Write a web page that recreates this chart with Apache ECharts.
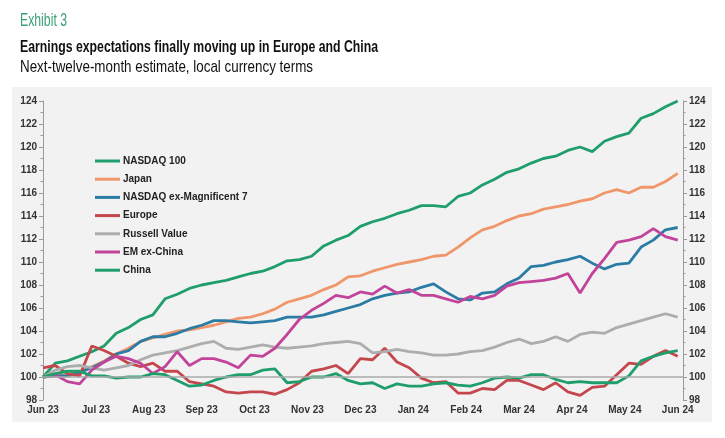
<!DOCTYPE html>
<html lang="en">
<head>
    <meta charset="utf-8">
    <script src="https://cdn.jsdelivr.net/npm/echarts@6/dist/echarts.min.js"></script>
    <style>
        html, body { margin: 0; padding: 0; background: #fff; }
        #chart { width: 725px; height: 438px; }
    </style>
</head>
<body>
<div id="chart"></div>

<script type="text/javascript">
    // month tick labels along the bottom (Jun 23 .. Jun 24)
    var monthLabels = ['Jun 23', 'Jul 23', 'Aug 23', 'Sep 23', 'Oct 23', 'Nov 23', 'Dec 23',
        'Jan 24', 'Feb 24', 'Mar 24', 'Apr 24', 'May 24', 'Jun 24'];

    // weekly readings, 53 weeks, rebased to 100
    var nasdaq100 = [100.0, 101.2, 101.4, 101.8, 102.2, 102.7, 103.8, 104.3, 105.0, 105.4,
        106.8, 107.2, 107.7, 108.0, 108.2, 108.4, 108.7, 109.0, 109.2, 109.6,
        110.1, 110.2, 110.5, 111.4, 111.9, 112.3, 113.1, 113.5, 113.8, 114.2,
        114.5, 114.9, 114.9, 114.8, 115.7, 116.0, 116.7, 117.2, 117.8, 118.1,
        118.6, 119.0, 119.2, 119.7, 120.0, 119.6, 120.5, 120.9, 121.2, 122.5,
        122.9, 123.5, 124.0];
    var japan = [100.0, 100.1, 100.2, 100.5, 100.9, 101.4, 102.0, 102.5, 103.1, 103.4,
        103.7, 104.0, 104.1, 104.3, 104.5, 104.8, 105.1, 105.2, 105.5, 105.9,
        106.5, 106.8, 107.1, 107.6, 108.0, 108.7, 108.8, 109.2, 109.5, 109.8,
        110.0, 110.2, 110.5, 110.6, 111.3, 112.1, 112.8, 113.1, 113.6, 114.0,
        114.2, 114.6, 114.8, 115.0, 115.3, 115.5, 116.0, 116.3, 116.0, 116.5,
        116.5, 117.0, 117.7];
    var nasdaqExMag7 = [100.0, 100.1, 100.1, 100.4, 100.8, 101.3, 102.0, 102.3, 103.1, 103.5,
        103.5, 103.8, 104.2, 104.5, 104.9, 104.9, 104.8, 104.7, 104.8, 104.9,
        105.2, 105.2, 105.2, 105.4, 105.7, 106.0, 106.3, 106.8, 107.1, 107.3,
        107.4, 107.8, 108.1, 107.4, 106.8, 106.7, 107.3, 107.4, 108.1, 108.6,
        109.6, 109.7, 110.0, 110.2, 110.5, 109.9, 109.4, 109.8, 109.9, 111.3,
        111.9, 112.8, 113.0];
    var europe = [100.8, 101.0, 100.3, 100.1, 102.7, 102.3, 101.8, 101.2, 100.9, 101.2,
        100.5, 100.5, 99.6, 99.4, 99.2, 98.7, 98.6, 98.7, 98.7, 98.5,
        98.9, 99.5, 100.5, 100.7, 101.0, 100.3, 101.6, 101.5, 102.5, 101.3,
        100.8, 99.9, 99.5, 99.6, 98.6, 98.6, 99.0, 98.9, 99.7, 99.7,
        99.3, 98.9, 99.5, 98.7, 98.4, 99.1, 99.2, 100.2, 101.2, 101.1,
        101.8, 102.3, 101.8];
    var russellValue = [100.0, 100.6, 100.9, 101.0, 100.8, 100.6, 100.8, 101.0, 101.5, 101.9,
        102.1, 102.3, 102.6, 102.9, 103.1, 102.5, 102.4, 102.6, 102.8, 102.6,
        102.5, 102.6, 102.7, 102.9, 103.0, 103.1, 102.9, 102.1, 102.2, 102.4,
        102.2, 102.1, 101.9, 101.9, 102.0, 102.2, 102.3, 102.6, 103.0, 103.3,
        102.9, 103.1, 103.5, 103.1, 103.7, 103.9, 103.8, 104.3, 104.6, 104.9,
        105.2, 105.5, 105.2];
    var emExChina = [100.0, 100.2, 99.6, 99.4, 100.6, 101.3, 101.8, 101.6, 101.2, 100.3,
        100.9, 102.2, 101.0, 101.6, 101.6, 101.3, 100.8, 101.9, 101.8, 102.5,
        103.7, 105.0, 105.8, 106.4, 107.1, 106.9, 107.4, 107.2, 107.9, 107.3,
        107.6, 107.1, 107.1, 106.8, 106.5, 107.0, 106.8, 107.1, 107.9, 108.2,
        108.3, 108.4, 108.6, 109.0, 107.3, 109.0, 110.3, 111.7, 111.9, 112.2,
        112.9, 112.2, 111.9];
    var china = [100.0, 100.3, 100.5, 100.5, 100.1, 100.1, 99.9, 100.0, 100.0, 100.3,
        100.2, 99.7, 99.2, 99.3, 99.7, 100.0, 100.2, 100.2, 100.6, 100.7,
        99.5, 99.6, 100.0, 100.0, 100.3, 99.7, 99.4, 99.5, 99.0, 99.4,
        99.2, 99.2, 99.4, 99.5, 99.3, 99.2, 99.5, 99.9, 100.0, 99.9,
        100.2, 100.2, 99.8, 99.5, 99.6, 99.5, 99.5, 99.5, 100.1, 101.4,
        101.8, 102.1, 102.3];

    var FONT = '"Liberation Sans Narrow", "Liberation Sans", sans-serif';

    // the original uses a condensed face: squeeze the heading texts to their widths
    var measureCtx = document.createElement('canvas').getContext('2d');
    function squeeze(text, font, targetWidth) {
        measureCtx.font = font;
        return targetWidth / measureCtx.measureText(text).width;
    }

    function heading(text, font, color, top, targetWidth) {
        var s = squeeze(text, font, targetWidth);
        return {
            type: 'text', x: 20, y: top, scaleX: s, silent: true,
            style: {text: text, fill: color, font: font}
        };
    }

    // week index -> position in months on the x axis
    function toPoints(arr) {
        return arr.map(function (v, i) {
            return [i * 12 / 52, v];
        });
    }

    function lineSeries(name, data, color) {
        return {
            name: name,
            type: 'line',
            data: toPoints(data),
            showSymbol: false,
            symbol: 'none',
            lineStyle: {width: 2.8, color: color},
            itemStyle: {color: color},
            emphasis: {disabled: true}
        };
    }

    var chart = echarts.init(document.getElementById('chart'));

    var series = [
        lineSeries('NASDAQ 100', nasdaq100, '#1f9e6c'),
        lineSeries('Japan', japan, '#f0966b'),
        lineSeries('NASDAQ ex-Magnificent 7', nasdaqExMag7, '#2a7ca4'),
        lineSeries('Europe', europe, '#c4474d'),
        lineSeries('Russell Value', russellValue, '#adadad'),
        lineSeries('EM ex-China', emExChina, '#c2449a'),
        lineSeries('China', china, '#1f9e6c')
    ];
    // reference line at 100
    series[0].markLine = {
        silent: true,
        symbol: 'none',
        label: {show: false},
        lineStyle: {color: '#aaaaaa', width: 1.5, type: 'solid'},
        data: [{yAxis: 100}]
    };

    var yAxisBase = {
        type: 'value',
        min: 98,
        max: 124,
        interval: 2,
        splitLine: {show: false},
        axisLine: {show: true, lineStyle: {color: '#9a9a9a', width: 1}},
        axisTick: {show: true, length: 4, lineStyle: {color: '#9a9a9a'}},
        minorTick: {show: true, splitNumber: 2, length: 2.5, lineStyle: {color: '#9a9a9a'}},
        axisLabel: {color: '#333', fontSize: 10, fontWeight: 'bold', fontFamily: FONT, margin: 6}
    };

    var option = {
        backgroundColor: '#ffffff',
        animation: false,
        graphic: [
            {
                type: 'rect', left: 12, top: 87, z: -10, silent: true,
                shape: {width: 700, height: 335},
                style: {fill: '#f2f2f2'}
            },
            heading('Exhibit 3', '18px ' + FONT, '#3a9f74', 12, 47),
            heading('Earnings expectations finally moving up in Europe and China', 'bold 17px ' + FONT, '#111', 39, 358),
            heading('Next-twelve-month estimate, local currency terms', '17px ' + FONT, '#111', 59, 293)
        ],
        legend: {
            orient: 'vertical',
            left: 95,
            top: 156,
            padding: 0,
            itemWidth: 25,
            itemHeight: 3,
            itemGap: 8.2,
            icon: 'rect',
            selectedMode: false,
            textStyle: {color: '#222', fontSize: 10, fontWeight: 'bold', fontFamily: FONT, padding: [0, 0, 0, -2]},
            data: series.map(function (s) { return s.name; })
        },
        grid: {left: 43, right: 42, top: 101, bottom: 38, containLabel: false},
        xAxis: {
            type: 'value',
            min: 0,
            max: 12.1,
            interval: 1,
            splitLine: {show: false},
            axisLine: {show: false},
            axisTick: {show: false},
            axisLabel: {
                color: '#333', fontSize: 10, fontWeight: 'bold', fontFamily: FONT, margin: 5,
                showMaxLabel: false,
                formatter: function (v) {
                    return Number.isInteger(v) ? monthLabels[v] : '';
                }
            }
        },
        yAxis: [
            echarts.util.merge({position: 'left'}, yAxisBase),
            echarts.util.merge({position: 'right'}, yAxisBase)
        ],
        series: series
    };

    chart.setOption(option);
</script>
</body>
</html>
